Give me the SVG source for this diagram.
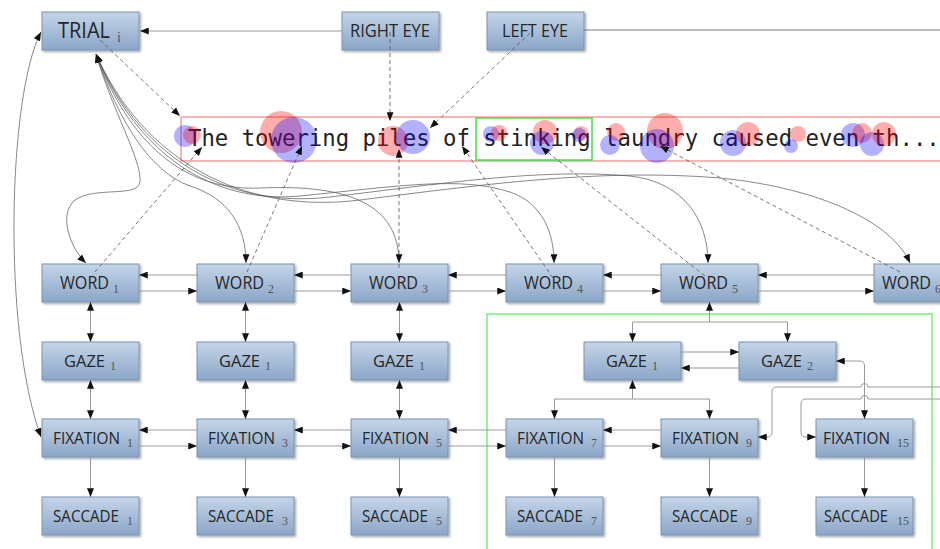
<svg xmlns="http://www.w3.org/2000/svg" width="940" height="549" viewBox="0 0 940 549">
<defs>
<linearGradient id="g" x1="0" y1="0" x2="0" y2="1"><stop offset="0" stop-color="#c4d5e8"/><stop offset="1" stop-color="#8ba6c8"/></linearGradient>
<filter id="sh" x="-10%" y="-10%" width="130%" height="140%"><feDropShadow dx="1.5" dy="1.5" stdDeviation="1" flood-color="#000" flood-opacity="0.35"/></filter>
<marker id="ah" viewBox="0 0 10 8" refX="10" refY="4" markerWidth="9" markerHeight="7" markerUnits="userSpaceOnUse" orient="auto-start-reverse"><path d="M0,0 L10,4 L0,8 z" fill="#111"/></marker>
<style>
.node rect{fill:url(#g);stroke:#7b93b3;stroke-width:1;filter:url(#sh)}
.lbl{font-family:"Open Sans","Liberation Sans",sans-serif;font-size:18px;fill:#262626}
.sm{font-size:16.5px}
.sub{font-family:"Liberation Serif",serif;font-size:12px;fill:#555}
.ln{fill:none;stroke:#9a9a9a;stroke-width:1}
.ar{marker-end:url(#ah)}
.ar2{marker-start:url(#ah);marker-end:url(#ah)}
.cv{fill:none;stroke:#555;stroke-width:0.7;marker-start:url(#ah);marker-end:url(#ah)}
.ds{fill:none;stroke:#555;stroke-width:0.8;stroke-dasharray:4 3;marker-end:url(#ah)}
.rd{fill:#ff0000;fill-opacity:0.32}
.bl{fill:#0000ff;fill-opacity:0.3}
</style>
</defs>
<rect width="940" height="549" fill="#fff"/>

<g id="sentence">
<rect x="181" y="117" width="780" height="44" fill="none" stroke="#ff9a9a" stroke-width="1.5"/>
<text x="188" y="146" font-family="DejaVu Sans Mono,monospace" font-size="22.3" fill="#222">The towering piles of stinking laundry caused even th...</text>
<rect x="476" y="118" width="116" height="42" fill="none" stroke="#44dd44" stroke-width="1.5"/>
<circle class="bl" cx="185" cy="136" r="11"/><circle class="rd" cx="192" cy="135" r="9"/>
<circle class="rd" cx="281" cy="132" r="21"/><circle class="bl" cx="294" cy="140" r="23"/>
<circle class="rd" cx="393" cy="141" r="15"/><circle class="bl" cx="413" cy="137" r="17"/>
<circle class="bl" cx="491" cy="134" r="8"/><circle class="rd" cx="499" cy="133" r="8"/>
<circle class="rd" cx="545" cy="132" r="12"/><circle class="bl" cx="542" cy="143" r="12"/>
<circle class="rd" cx="581" cy="133" r="7"/><circle class="bl" cx="579" cy="135" r="7"/>
<circle class="rd" cx="616" cy="132" r="9"/><circle class="bl" cx="610" cy="145" r="10"/>
<circle class="rd" cx="665" cy="131" r="18"/><circle class="bl" cx="657" cy="146" r="17"/>
<circle class="bl" cx="733" cy="143" r="13"/><circle class="rd" cx="748" cy="134" r="12"/>
<circle class="rd" cx="798" cy="134" r="8"/><circle class="bl" cx="791" cy="146" r="7"/>
<circle class="bl" cx="853" cy="135" r="12"/><circle class="rd" cx="862" cy="133" r="10"/>
<circle class="bl" cx="872" cy="144" r="12"/><circle class="rd" cx="884" cy="134" r="12"/>
</g>

<rect id="region" x="487" y="314" width="445" height="260" fill="none" stroke="#77ee77" stroke-width="1.5"/>

<g id="nodes">
<g id="trial" class="node"><rect x="42" y="12" width="97" height="38"/><text class="lbl" x="58" y="37.5" style="font-size:21px" textLength="52" lengthAdjust="spacingAndGlyphs">TRIAL</text><text class="sub" x="117" y="41.5" style="font-size:14px">i</text></g>
<g id="righteye" class="node"><rect x="342" y="12" width="97" height="38"/><text class="lbl" x="350" y="37" textLength="80" lengthAdjust="spacingAndGlyphs">RIGHT EYE</text></g>
<g id="lefteye" class="node"><rect x="487" y="12" width="97" height="38"/><text class="lbl" x="502" y="37" textLength="66" lengthAdjust="spacingAndGlyphs">LEFT EYE</text></g>

<g id="word1" class="node"><rect x="42" y="264" width="97" height="38"/><text class="lbl" x="60" y="289" textLength="49" lengthAdjust="spacingAndGlyphs">WORD</text><text class="sub" x="113" y="292.5">1</text></g>
<g id="word2" class="node"><rect x="197" y="264" width="97" height="38"/><text class="lbl" x="215" y="289" textLength="49" lengthAdjust="spacingAndGlyphs">WORD</text><text class="sub" x="268" y="292.5">2</text></g>
<g id="word3" class="node"><rect x="351" y="264" width="97" height="38"/><text class="lbl" x="369" y="289" textLength="49" lengthAdjust="spacingAndGlyphs">WORD</text><text class="sub" x="422" y="292.5">3</text></g>
<g id="word4" class="node"><rect x="506" y="264" width="97" height="38"/><text class="lbl" x="524" y="289" textLength="49" lengthAdjust="spacingAndGlyphs">WORD</text><text class="sub" x="577" y="292.5">4</text></g>
<g id="word5" class="node"><rect x="661" y="264" width="97" height="38"/><text class="lbl" x="679" y="289" textLength="49" lengthAdjust="spacingAndGlyphs">WORD</text><text class="sub" x="732" y="292.5">5</text></g>
<g id="word6" class="node"><rect x="874" y="264" width="97" height="38"/><text class="lbl" x="882" y="289" textLength="49" lengthAdjust="spacingAndGlyphs">WORD</text><text class="sub" x="935" y="292.5">6</text></g>

<g id="gaze1a" class="node"><rect x="42" y="342" width="97" height="38"/><text class="lbl sm" x="64" y="366.5" textLength="41" lengthAdjust="spacingAndGlyphs">GAZE</text><text class="sub" x="110" y="370">1</text></g>
<g id="gaze1b" class="node"><rect x="197" y="342" width="97" height="38"/><text class="lbl sm" x="219" y="366.5" textLength="41" lengthAdjust="spacingAndGlyphs">GAZE</text><text class="sub" x="265" y="370">1</text></g>
<g id="gaze1c" class="node"><rect x="351" y="342" width="97" height="38"/><text class="lbl sm" x="373" y="366.5" textLength="41" lengthAdjust="spacingAndGlyphs">GAZE</text><text class="sub" x="419" y="370">1</text></g>
<g id="gaze1d" class="node"><rect x="584" y="342" width="97" height="38"/><text class="lbl sm" x="606" y="366.5" textLength="41" lengthAdjust="spacingAndGlyphs">GAZE</text><text class="sub" x="652" y="370">1</text></g>
<g id="gaze2" class="node"><rect x="739" y="342" width="97" height="38"/><text class="lbl sm" x="761" y="366.5" textLength="41" lengthAdjust="spacingAndGlyphs">GAZE</text><text class="sub" x="807" y="370">2</text></g>

<g id="fix1" class="node"><rect x="42" y="419" width="97" height="38"/><text class="lbl sm" x="53" y="443.5" textLength="67" lengthAdjust="spacingAndGlyphs">FIXATION</text><text class="sub" x="127" y="447">1</text></g>
<g id="fix3" class="node"><rect x="197" y="419" width="97" height="38"/><text class="lbl sm" x="208" y="443.5" textLength="67" lengthAdjust="spacingAndGlyphs">FIXATION</text><text class="sub" x="282" y="447">3</text></g>
<g id="fix5" class="node"><rect x="351" y="419" width="97" height="38"/><text class="lbl sm" x="362" y="443.5" textLength="67" lengthAdjust="spacingAndGlyphs">FIXATION</text><text class="sub" x="436" y="447">5</text></g>
<g id="fix7" class="node"><rect x="506" y="419" width="97" height="38"/><text class="lbl sm" x="517" y="443.5" textLength="67" lengthAdjust="spacingAndGlyphs">FIXATION</text><text class="sub" x="591" y="447">7</text></g>
<g id="fix9" class="node"><rect x="661" y="419" width="97" height="38"/><text class="lbl sm" x="672" y="443.5" textLength="67" lengthAdjust="spacingAndGlyphs">FIXATION</text><text class="sub" x="746" y="447">9</text></g>
<g id="fix15" class="node"><rect x="816" y="419" width="97" height="38"/><text class="lbl sm" x="823" y="443.5" textLength="67" lengthAdjust="spacingAndGlyphs">FIXATION</text><text class="sub" x="897" y="447">15</text></g>

<g id="sac1" class="node"><rect x="42" y="497" width="97" height="38"/><text class="lbl sm" x="53" y="521.5" textLength="66" lengthAdjust="spacingAndGlyphs">SACCADE</text><text class="sub" x="127" y="525">1</text></g>
<g id="sac3" class="node"><rect x="197" y="497" width="97" height="38"/><text class="lbl sm" x="208" y="521.5" textLength="66" lengthAdjust="spacingAndGlyphs">SACCADE</text><text class="sub" x="282" y="525">3</text></g>
<g id="sac5" class="node"><rect x="351" y="497" width="97" height="38"/><text class="lbl sm" x="362" y="521.5" textLength="66" lengthAdjust="spacingAndGlyphs">SACCADE</text><text class="sub" x="436" y="525">5</text></g>
<g id="sac7" class="node"><rect x="506" y="497" width="97" height="38"/><text class="lbl sm" x="517" y="521.5" textLength="66" lengthAdjust="spacingAndGlyphs">SACCADE</text><text class="sub" x="591" y="525">7</text></g>
<g id="sac9" class="node"><rect x="661" y="497" width="97" height="38"/><text class="lbl sm" x="672" y="521.5" textLength="66" lengthAdjust="spacingAndGlyphs">SACCADE</text><text class="sub" x="746" y="525">9</text></g>
<g id="sac15" class="node"><rect x="816" y="497" width="97" height="38"/><text class="lbl sm" x="824" y="521.5" textLength="64" lengthAdjust="spacingAndGlyphs">SACCADE</text><text class="sub" x="897" y="525">15</text></g>
</g>

<g id="connectors">
<path class="ln ar" d="M342,31 L140,31" stroke="#b0b0b0"/>
<path class="ln" d="M584,30 L940,30" style="stroke:#777"/>
<path class="ds" d="M100,40 L180,116"/>
<path class="ds" d="M390,32 L390,121"/>
<path class="ds" d="M530,33 L430,128"/>
<path class="ds" d="M95,272 L202,147"/>
<path class="ds" d="M247,272 L302,146"/>
<path class="ds" d="M399,268 L399,149"/>
<path class="ds" d="M553,278 L462,146"/>
<path class="ds" d="M705,276 L541,147"/>
<path class="ds" d="M900,272 L660,146"/>

<path class="cv" d="M96,54 C112,110 142,160 140,182 C138,198 95,186 75,200 C58,214 70,248 86,263"/>
<path class="cv" d="M96,54 C118,120 150,172 190,186 C228,198 246,226 246,263"/>
<path class="cv" d="M96,54 C124,130 175,192 260,188 C350,184 399,205 399,263"/>
<path class="cv" d="M96,54 C130,140 200,205 300,196 C400,186 460,176 510,192 C542,203 554,232 554,263"/>
<path class="cv" d="M96,54 C136,150 220,210 330,197 C440,184 540,168 630,176 C684,182 708,220 708,263"/>
<path class="cv" d="M96,54 C142,158 240,215 360,200 C480,185 600,168 720,178 C820,188 892,222 910,263"/>
<path class="cv" d="M41,32 C8,95 2,330 41,437"/>

<path class="ln ar" d="M197,275 L139,275"/><path class="ln ar" d="M139,291 L197,291"/>
<path class="ln ar" d="M351,275 L294,275"/><path class="ln ar" d="M294,291 L351,291"/>
<path class="ln ar" d="M506,275 L448,275"/><path class="ln ar" d="M448,291 L506,291"/>
<path class="ln ar" d="M661,275 L603,275"/><path class="ln ar" d="M603,291 L661,291"/>
<path class="ln ar" d="M874,275 L758,275"/><path class="ln ar" d="M758,291 L874,291"/>

<path class="ln ar" d="M197,430 L139,430"/><path class="ln ar" d="M139,446 L197,446"/>
<path class="ln ar" d="M351,430 L294,430"/><path class="ln ar" d="M294,446 L351,446"/>
<path class="ln ar" d="M506,430 L448,430"/><path class="ln ar" d="M448,446 L506,446"/>
<path class="ln ar" d="M661,430 L603,430"/><path class="ln ar" d="M603,446 L661,446"/>

<path class="ln ar2" d="M90.5,302 L90.5,342"/><path class="ln ar2" d="M245.5,302 L245.5,342"/><path class="ln ar2" d="M399.5,302 L399.5,342"/>
<path class="ln ar2" d="M90.5,380 L90.5,419"/><path class="ln ar2" d="M245.5,380 L245.5,419"/><path class="ln ar2" d="M399.5,380 L399.5,419"/>
<path class="ln ar" d="M90.5,457 L90.5,497"/><path class="ln ar" d="M245.5,457 L245.5,497"/><path class="ln ar" d="M399.5,457 L399.5,497"/>
<path class="ln ar" d="M554.5,457 L554.5,497"/><path class="ln ar" d="M709.5,457 L709.5,497"/><path class="ln ar" d="M864.5,457 L864.5,497"/>

<path class="ln ar" d="M709.5,322 L709.5,302"/>
<path class="ln ar2" d="M632.5,342 L632.5,322 L787.5,322 L787.5,342"/>
<path class="ln ar" d="M681,352 L739,352"/><path class="ln ar" d="M739,368 L681,368"/>
<path class="ln ar" d="M632.5,399 L632.5,380"/>
<path class="ln ar2" d="M554.5,419 L554.5,399 L709.5,399 L709.5,419"/>
<path class="ln ar2" d="M836,361 L860,361 Q864.5,361 864.5,366 L864.5,419"/>
<path class="ln ar" d="M940,387 L868,387 A3.5,3.5 0 0 0 861,387 L777,387 Q772,387 772,392 L772,432 Q772,437 767,437 L758,437"/>
<path class="ln ar" d="M940,399 L868,399 A3.5,3.5 0 0 0 861,399 L806,399 Q801,399 801,404 L801,432 Q801,437 806,437 L816,437"/>
</g>
</svg>
